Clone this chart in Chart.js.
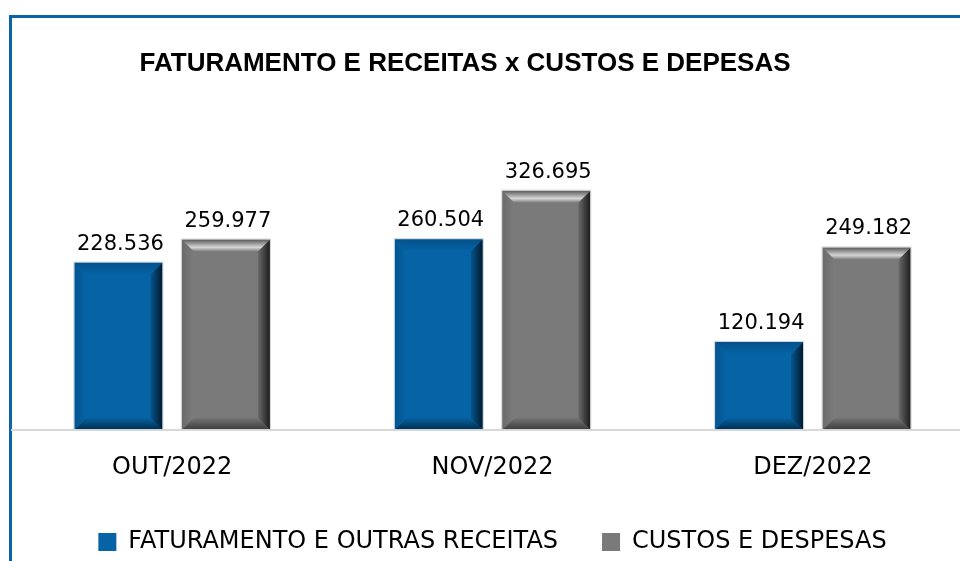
<!DOCTYPE html>
<html><head><meta charset="utf-8">
<script src="https://cdn.jsdelivr.net/npm/chart.js@4.4.0/dist/chart.umd.min.js"></script>
<style>
html,body{margin:0;padding:0;background:#fff;overflow:hidden;width:960px;height:561px;}
#wrap{position:relative;width:960px;height:561px;overflow:hidden;}
#frame{position:absolute;left:9px;top:15px;width:980px;height:580px;border-top:3px solid #0b63a8;border-left:3px solid #0b63a8;}
#title{position:absolute;left:0;width:930px;top:47px;text-align:center;font-family:"Liberation Sans",Arial,sans-serif;font-weight:bold;font-size:26px;line-height:30px;color:#000;white-space:nowrap;}
#c{position:absolute;left:0;top:0;}
</style></head>
<body>
<div id="wrap">
  <div id="frame"></div>
  <canvas id="c" width="980" height="561" style="width:980px;height:561px"></canvas>
  <div id="title"></div>
</div>
<script>
const chartTitle = 'FATURAMENTO E RECEITAS x CUSTOS E DEPESAS';
const categories = ['OUT/2022', 'NOV/2022', 'DEZ/2022'];
const seriesNames = ['FATURAMENTO E OUTRAS RECEITAS', 'CUSTOS E DESPESAS'];
const faturamento = [228536, 260504, 120194];
const custos = [259977, 326695, 249182];

document.getElementById('title').textContent = chartTitle;

const palettes = [
  {main:'#0664a6', top:['#04508a','#0664a6'], left:['#04558f','#0664a6'], right:['#011a2e','#05568f'], bottom:['#022b4a','#0562a2'], outline:'#c9d5de'},
  {main:'#7a7a7a', top:['#5a5a5a','#d6d6d6','#7c7c7c'], left:['#6a6a6a','#7c7c7c'], right:['#1c1c1c','#6a6a6a'], bottom:['#3c3c3c','#747474'], outline:'#d2d2d2'}
];

const fmt = v => String(v).replace(/\B(?=(\d{3})+(?!\d))/g, '.');

function stops(g, arr) {
  if (arr.length === 3) { g.addColorStop(0, arr[0]); g.addColorStop(0.65, arr[1]); g.addColorStop(1, arr[2]); }
  else { g.addColorStop(0, arr[0]); g.addColorStop(1, arr[1]); }
  return g;
}

const bevelPlugin = {
  id: 'bevel',
  afterDatasetsDraw(chart) {
    const ctx = chart.ctx;
    chart.data.datasets.forEach((ds, di) => {
      const meta = chart.getDatasetMeta(di);
      const p = palettes[di];
      meta.data.forEach(bar => {
        const {x, y, base, width} = bar.getProps(['x','y','base','width'], true);
        const l = x - width/2, r = x + width/2, t = y, b = base;
        const s = Math.min(12, (b - t)/2, width/2);
        ctx.save();
        ctx.fillStyle = stops(ctx.createLinearGradient(l, 0, l + s, 0), p.left);
        ctx.beginPath(); ctx.moveTo(l,t); ctx.lineTo(l+s,t+s); ctx.lineTo(l+s,b-s); ctx.lineTo(l,b); ctx.closePath(); ctx.fill();
        ctx.fillStyle = stops(ctx.createLinearGradient(r, 0, r - s, 0), p.right);
        ctx.beginPath(); ctx.moveTo(r,t); ctx.lineTo(r-s,t+s); ctx.lineTo(r-s,b-s); ctx.lineTo(r,b); ctx.closePath(); ctx.fill();
        ctx.fillStyle = stops(ctx.createLinearGradient(0, t, 0, t + s), p.top);
        ctx.beginPath(); ctx.moveTo(l,t); ctx.lineTo(r,t); ctx.lineTo(r-s,t+s); ctx.lineTo(l+s,t+s); ctx.closePath(); ctx.fill();
        ctx.fillStyle = stops(ctx.createLinearGradient(0, b, 0, b - s), p.bottom);
        ctx.beginPath(); ctx.moveTo(l,b); ctx.lineTo(l+s,b-s); ctx.lineTo(r-s,b-s); ctx.lineTo(r,b); ctx.closePath(); ctx.fill();
        ctx.strokeStyle = p.outline; ctx.lineWidth = 1;
        ctx.strokeRect(l - 0.5, t - 0.5, width + 1, b - t);
        ctx.restore();
      });
    });
  }
};

const labelPlugin = {
  id: 'valueLabels',
  afterDatasetsDraw(chart) {
    const ctx = chart.ctx;
    ctx.save();
    ctx.font = '21px "DejaVu Sans"';
    ctx.fillStyle = '#000';
    ctx.textAlign = 'center';
    ctx.textBaseline = 'alphabetic';
    chart.data.datasets.forEach((ds, di) => {
      const meta = chart.getDatasetMeta(di);
      meta.data.forEach((bar, i) => {
        ctx.fillText(fmt(ds.data[i]), bar.x + 2, bar.y - 13);
      });
    });
    ctx.restore();
  }
};

Chart.defaults.font.family = '"DejaVu Sans"';
Chart.defaults.color = '#000';

new Chart(document.getElementById('c'), {
  type: 'bar',
  data: {
    labels: categories,
    datasets: [
      {label: seriesNames[0], data: faturamento, backgroundColor: palettes[0].main, borderWidth: 0},
      {label: seriesNames[1], data: custos, backgroundColor: palettes[1].main, borderWidth: 0}
    ]
  },
  options: {
    responsive: false,
    animation: false,
    layout: {padding: {top: 137, left: 12, right: 7, bottom: -3}},
    datasets: {bar: {categoryPercentage: 0.671, barPercentage: 0.819}},
    scales: {
      x: {
        grid: {display: false, drawTicks: false},
        border: {display: true, color: '#d9d9d9', width: 2},
        ticks: {font: {family: '"DejaVu Sans"', size: 24}, color: '#000', padding: 23},
        afterFit(s) { s.height = 56; }
      },
      y: {display: false, min: 0, max: 400000}
    },
    plugins: {
      legend: {
        position: 'bottom',
        labels: {boxWidth: 18, boxHeight: 18, padding: 44, font: {family: '"DejaVu Sans"', size: 24}, color: '#000'}
      },
      tooltip: {enabled: false},
      title: {display: false}
    }
  },
  plugins: [bevelPlugin, labelPlugin]
});
</script>
</body></html>
